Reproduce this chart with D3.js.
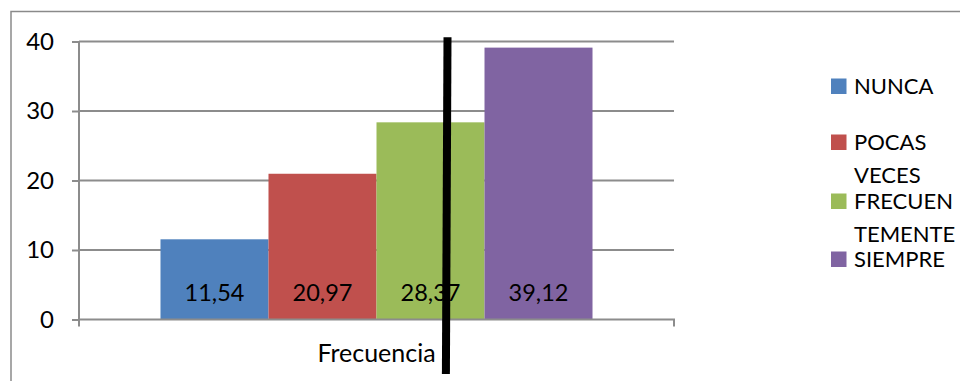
<!DOCTYPE html>
<html>
<head>
<meta charset="utf-8">
<script src="https://cdn.jsdelivr.net/npm/d3@7"></script>
<style>
  html, body { margin: 0; padding: 0; background: #fff; }
  svg { display: block; font-family: Lato, "Liberation Sans", sans-serif; }
</style>
</head>
<body>
<svg id="chart" width="960" height="381"></svg>
<script>
// Category on the x axis and the four response series
const categories = ["Frecuencia"];
const seriesNames = ["NUNCA", "POCAS VECES", "FRECUENTEMENTE", "SIEMPRE"];
const seriesValues = [11.54, 20.97, 28.37, 39.12];
const valueLabels = ["11,54", "20,97", "28,37", "39,12"];
const yTicks = [0, 10, 20, 30, 40];
// Legend entries, wrapped the way they are printed
const legendLines = [["NUNCA"], ["POCAS", "VECES"], ["FRECUEN", "TEMENTE"], ["SIEMPRE"]];
const colors = ["#4F81BD", "#C0504D", "#9BBB59", "#8064A2"];

const svg = d3.select("#chart");
const plot = { left: 79, right: 674, top: 41.5, bottom: 319.5 };

// Outer frame of the chart area
svg.append("rect")
  .attr("x", 11).attr("y", 11.5)
  .attr("width", 1000).attr("height", 420)
  .attr("fill", "none").attr("stroke", "#8a8a8a").attr("stroke-width", 1.5);

const y = d3.scaleLinear().domain([0, 40]).range([plot.bottom, plot.top]);
const x0 = d3.scaleBand().domain(categories).range([plot.left, plot.right])
  .paddingInner(0.1587).paddingOuter(0.1587);
const x1 = d3.scaleBand().domain(seriesNames).range([0, x0.bandwidth()]).padding(0);

// Horizontal gridlines
svg.append("g").selectAll("line")
  .data(yTicks.filter(d => d > 0))
  .join("line")
  .attr("x1", plot.left).attr("x2", plot.right)
  .attr("y1", d => y(d)).attr("y2", d => y(d))
  .attr("stroke", "#8c8c8c").attr("stroke-width", 2);

// Y axis
const yAxis = svg.append("g")
  .attr("transform", `translate(${plot.left},0)`)
  .call(d3.axisLeft(y).tickValues(yTicks).tickSize(7).tickPadding(18).tickFormat(d3.format("d")));
yAxis.select(".domain").attr("stroke", "#8c8c8c").attr("stroke-width", 2)
  .attr("d", `M0,${plot.top}V${plot.bottom + 7}`);
yAxis.selectAll(".tick line").attr("stroke", "#8c8c8c").attr("stroke-width", 2);
yAxis.selectAll(".tick text").attr("font-size", 24).attr("fill", "#000")
  .attr("font-family", "Lato, sans-serif");

// Bars
const group = svg.append("g").attr("transform", `translate(${x0(categories[0])},0)`);
group.selectAll("rect")
  .data(seriesValues)
  .join("rect")
  .attr("x", (d, i) => x1(seriesNames[i]))
  .attr("width", x1.bandwidth())
  .attr("y", d => y(d))
  .attr("height", d => y(0) - y(d))
  .attr("fill", (d, i) => colors[i]);

// X axis baseline with end ticks
svg.append("path")
  .attr("d", `M${plot.left},${plot.bottom}H${plot.right}V${plot.bottom + 7}`)
  .attr("fill", "none").attr("stroke", "#8c8c8c").attr("stroke-width", 2);

// Value labels inside the bars
group.selectAll("text.val")
  .data(valueLabels)
  .join("text")
  .attr("class", "val")
  .attr("x", (d, i) => x1(seriesNames[i]) + x1.bandwidth() / 2)
  .attr("y", y(0) - 18.5)
  .attr("text-anchor", "middle")
  .attr("font-size", 23.5)
  .attr("fill", "#000")
  .text(d => d);

// Category label
svg.append("text")
  .attr("x", x0(categories[0]) + x0.bandwidth() / 2)
  .attr("y", 362)
  .attr("text-anchor", "middle")
  .attr("font-size", 25)
  .attr("fill", "#000")
  .text(categories[0]);

// Hand-drawn marker stroke across the plot
const markX = x0(categories[0]) + x1.bandwidth() * 2.65;
svg.append("line")
  .attr("x1", markX + 0.8).attr("y1", y(40.6))
  .attr("x2", markX - 0.8).attr("y2", y(-7.85))
  .attr("stroke", "#000").attr("stroke-width", 8);

// Legend
const legendTop = [94, 150, 209, 267];
const legend = svg.append("g");
legendLines.forEach((lines, i) => {
  legend.append("rect")
    .attr("x", 831).attr("y", legendTop[i] - 15.5)
    .attr("width", 15.5).attr("height", 15.5)
    .attr("fill", colors[i]);
  lines.forEach((ln, j) => {
    legend.append("text")
      .attr("x", 854)
      .attr("y", legendTop[i] + 33 * j)
      .attr("font-size", 22)
      .attr("fill", "#000")
      .text(ln);
  });
});
</script>
</body>
</html>
